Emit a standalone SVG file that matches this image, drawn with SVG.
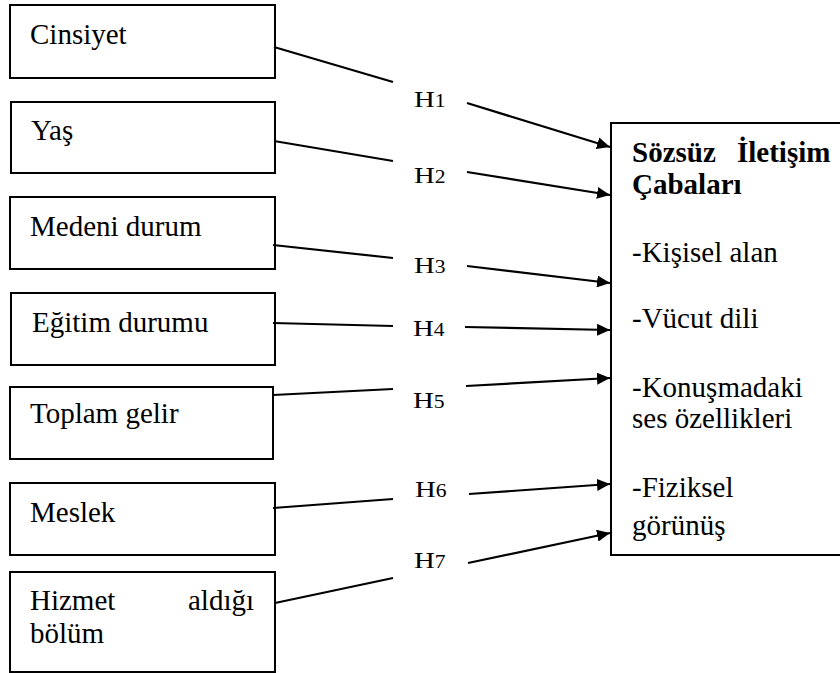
<svg xmlns="http://www.w3.org/2000/svg" width="840" height="673" viewBox="0 0 840 673">
<defs>
<style>
.box{fill:#fff;stroke:#000;stroke-width:2}
.t{font-family:"Liberation Serif","Times New Roman",serif;font-size:29px;fill:#000}
.b{font-weight:bold}
.h{font-family:"Liberation Serif","Times New Roman",serif;font-size:24px;fill:#000}
.h tspan{font-size:18px}
.ln{stroke:#000;stroke-width:2.2;fill:none}
.ar{marker-end:url(#arr)}
</style>
<marker id="arr" markerUnits="userSpaceOnUse" markerWidth="14" markerHeight="12" refX="13" refY="6" orient="auto">
<path d="M0,0 L13,6 L0,12 z" fill="#000"/>
</marker>
</defs>
<rect width="840" height="673" fill="#fff"/>

<g id="n1"><rect class="box" x="10" y="5" width="265" height="73"/><text class="t" x="30" y="44">Cinsiyet</text></g>
<g id="n2"><rect class="box" x="11" y="102" width="264" height="71"/><text class="t" x="31" y="140">Yaş</text></g>
<g id="n3"><rect class="box" x="10" y="197" width="265" height="72"/><text class="t" x="30" y="236">Medeni durum</text></g>
<g id="n4"><rect class="box" x="11" y="293" width="264" height="72"/><text class="t" x="32" y="332">Eğitim durumu</text></g>
<g id="n5"><rect class="box" x="10" y="387" width="263" height="72"/><text class="t" x="30" y="423">Toplam gelir</text></g>
<g id="n6"><rect class="box" x="10" y="483" width="265" height="72"/><text class="t" x="30" y="522">Meslek</text></g>
<g id="n7"><rect class="box" x="10" y="572" width="265" height="100"/><text class="t"><tspan x="30" y="610">Hizmet</tspan><tspan x="188" y="610">aldığı</tspan><tspan x="30" y="643">bölüm</tspan></text></g>

<g id="target"><rect class="box" x="611" y="123" width="240" height="432"/>
<text class="t b"><tspan x="632" y="162">Sözsüz</tspan><tspan x="737" y="162">İletişim</tspan><tspan x="632" y="194">Çabaları</tspan></text>
<text class="t"><tspan x="632" y="262">-Kişisel alan</tspan><tspan x="632" y="328">-Vücut dili</tspan><tspan x="632" y="397">-Konuşmadaki</tspan><tspan x="632" y="428">ses özellikleri</tspan><tspan x="632" y="497">-Fiziksel</tspan><tspan x="632" y="535">görünüş</tspan></text>
</g>

<g id="labels">
<text class="h" transform="translate(414,107) scale(1.2,1)">H<tspan>1</tspan></text>
<text class="h" transform="translate(414,183) scale(1.2,1)">H<tspan>2</tspan></text>
<text class="h" transform="translate(414,273) scale(1.2,1)">H<tspan>3</tspan></text>
<text class="h" transform="translate(413,336) scale(1.2,1)">H<tspan>4</tspan></text>
<text class="h" transform="translate(413,408) scale(1.2,1)">H<tspan>5</tspan></text>
<text class="h" transform="translate(415,497) scale(1.2,1)">H<tspan>6</tspan></text>
<text class="h" transform="translate(414,568) scale(1.2,1)">H<tspan>7</tspan></text>
</g>

<g id="connectors">
<line class="ln" x1="274" y1="47" x2="393" y2="82"/>
<line class="ln ar" x1="467" y1="103" x2="610" y2="147"/>
<line class="ln" x1="274" y1="141" x2="393" y2="161"/>
<line class="ln ar" x1="467" y1="172" x2="610" y2="195"/>
<line class="ln" x1="273" y1="245" x2="393" y2="258"/>
<line class="ln ar" x1="467" y1="266" x2="610" y2="283"/>
<line class="ln" x1="273" y1="323" x2="393" y2="326"/>
<line class="ln ar" x1="465" y1="327" x2="610" y2="330"/>
<line class="ln" x1="273" y1="395" x2="393" y2="389"/>
<line class="ln ar" x1="466" y1="386" x2="610" y2="378"/>
<line class="ln" x1="273" y1="508" x2="393" y2="499"/>
<line class="ln ar" x1="469" y1="494" x2="610" y2="484"/>
<line class="ln" x1="275" y1="603" x2="393" y2="578"/>
<line class="ln ar" x1="468" y1="563" x2="610" y2="533"/>
</g>
</svg>
